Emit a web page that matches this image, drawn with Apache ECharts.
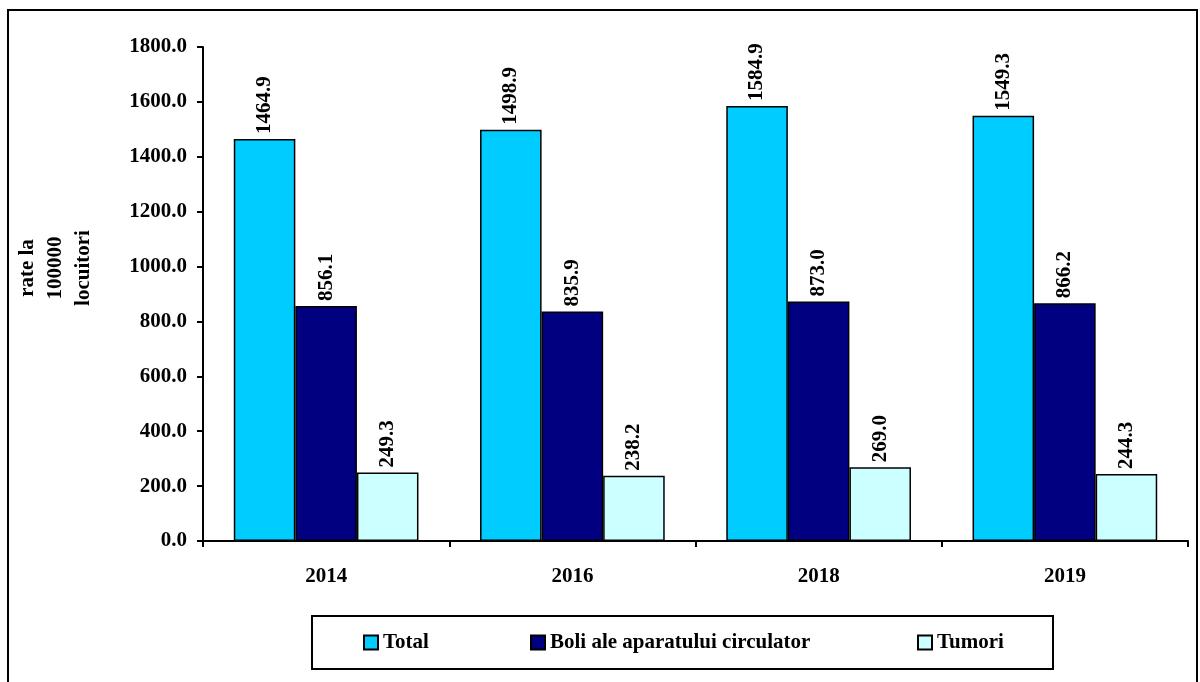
<!DOCTYPE html>
<html>
<head>
<meta charset="utf-8">
<script src="https://cdn.jsdelivr.net/npm/echarts@6/dist/echarts.min.js"></script>
<style>
  html, body { margin: 0; padding: 0; background: #fff; }
  #chart { width: 1200px; height: 682px; }
</style>
</head>
<body>
<div id="chart"></div>
<script>
const years = ['2014', '2016', '2018', '2019']
const total = [1464.9, 1498.9, 1584.9, 1549.3]
const boli = [856.1, 835.9, 873.0, 866.2]
const tumori = [249.3, 238.2, 269.0, 244.3]

const font = '"Liberation Serif", "Times New Roman", serif'

const chart = echarts.init(document.getElementById('chart'))

const barLabel = {
  show: true,
  position: 'top',
  rotate: 90,
  align: 'left',
  verticalAlign: 'middle',
  distance: 5,
  color: '#000',
  fontFamily: font,
  fontWeight: 'bold',
  fontSize: 21,
  formatter: p => p.value.toFixed(1)
}

const mkSeries = (name, data, color) => ({
  name,
  type: 'bar',
  data,
  barGap: '0%',
  barCategoryGap: '25%',
  itemStyle: { color, borderColor: '#000', borderWidth: 1.5 },
  label: barLabel
})

const legendBase = {
  top: 632,
  padding: 0,
  itemWidth: 14,
  itemHeight: 14,
  icon: 'rect',
  textStyle: { fontFamily: font, fontWeight: 'bold', fontSize: 21, color: '#000', padding: [0, 0, 0, 0] },
  itemStyle: { borderColor: '#000', borderWidth: 2 }
}

chart.setOption({
  animation: false,
  backgroundColor: '#fff',
  grid: { left: 203, right: 12, top: 47, bottom: 141 },
  legend: [
    { ...legendBase, left: 363, data: ['Total'] },
    { ...legendBase, left: 530, data: ['Boli ale aparatului circulator'] },
    { ...legendBase, left: 917, data: ['Tumori'] }
  ],
  graphic: [
    {
      type: 'rect',
      shape: { x: 8, y: 10, width: 1189, height: 690 },
      style: { fill: 'none', stroke: '#000', lineWidth: 2 },
      silent: true
    },
    {
      type: 'rect',
      shape: { x: 312, y: 616, width: 741, height: 53 },
      style: { fill: 'none', stroke: '#000', lineWidth: 2 },
      silent: true
    },
    {
      type: 'text',
      x: 56,
      y: 268,
      rotation: Math.PI / 2,
      style: {
        text: 'rate la\n100000\nlocuitori',
        fill: '#000',
        font: 'bold 21px ' + font,
        align: 'center',
        verticalAlign: 'middle',
        lineHeight: 28
      }
    }
  ],
  xAxis: {
    type: 'category',
    data: years,
    axisLine: { lineStyle: { color: '#000', width: 2 } },
    axisTick: { show: true, length: 6, lineStyle: { color: '#000', width: 2 } },
    axisLabel: { margin: 25, color: '#000', fontFamily: font, fontWeight: 'bold', fontSize: 21 }
  },
  yAxis: {
    type: 'value',
    min: 0,
    max: 1800,
    interval: 200,
    splitLine: { show: false },
    axisLine: { show: true, lineStyle: { color: '#000', width: 2 } },
    axisTick: { show: true, length: 6, lineStyle: { color: '#000', width: 2 } },
    axisLabel: {
      margin: 16,
      color: '#000',
      fontFamily: font,
      fontWeight: 'bold',
      fontSize: 21,
      formatter: v => v.toFixed(1)
    }
  },
  series: [
    mkSeries('Total', total, '#00CCFF'),
    mkSeries('Boli ale aparatului circulator', boli, '#000080'),
    mkSeries('Tumori', tumori, '#CCFFFF')
  ]
})
</script>
</body>
</html>
